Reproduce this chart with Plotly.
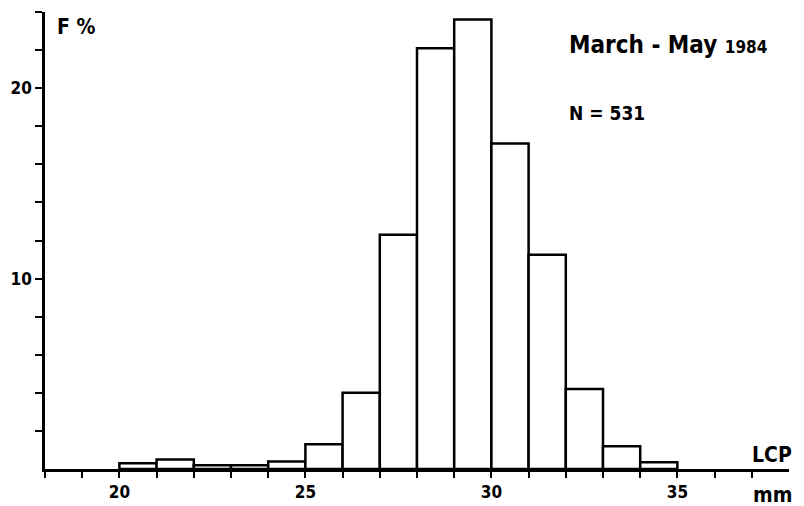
import plotly.graph_objects as go

# Length classes (mm), lower edge of each 1-mm bin
bin_start = [20, 21, 22, 23, 24, 25, 26, 27, 28, 29, 30, 31, 32, 33, 34]
# Frequency (%)
freq = [0.3, 0.5, 0.2, 0.2, 0.4, 1.3, 4.0, 12.3, 22.1, 23.6, 17.1, 11.25, 4.2, 1.2, 0.35]

x_ticks = list(range(18, 38))
x_labels = {20: "20", 25: "25", 30: "30", 35: "35"}
y_ticks = list(range(2, 25, 2))
y_labels = {10: "10", 20: "20"}

FONT = "Liberation Sans Narrow, DejaVu Sans Condensed, Arial Narrow, sans-serif"

centers = [b + 0.5 for b in bin_start]

fig = go.Figure()
fig.add_trace(go.Bar(
    x=centers, y=freq, width=1,
    marker=dict(color="white", line=dict(color="black", width=2.5)),
    hoverinfo="skip",
))

tf = dict(size=17, family=FONT, weight="bold", color="black")

# the page body has an 8px margin, so the figure is sized to fit the window
fig.update_layout(
    width=796, height=498,
    margin=dict(l=37, r=15, t=4, b=37, autoexpand=False),
    paper_bgcolor="white", plot_bgcolor="white",
    showlegend=False,
    font=dict(family=FONT, color="black"),
    xaxis=dict(
        range=[18, 38], showgrid=False, zeroline=False, automargin=False,
        showline=True, linecolor="black", linewidth=2.5,
        ticks="outside", ticklen=6, tickwidth=2, tickcolor="black",
        tickvals=x_ticks, ticktext=[x_labels.get(v, "") for v in x_ticks],
        tickfont=tf,
    ),
    yaxis=dict(
        range=[0, 24], showgrid=False, zeroline=False, automargin=False,
        showline=True, linecolor="black", linewidth=2.5,
        ticks="outside", ticklen=7, tickwidth=2, tickcolor="black",
        tickvals=y_ticks, ticktext=[y_labels.get(v, "") for v in y_ticks],
        tickfont=tf,
    ),
)

def ann(text, x, y, size, xanchor="left", yanchor="middle"):
    fig.add_annotation(text=text, x=x, y=y, xref="paper", yref="paper",
                       xanchor=xanchor, yanchor=yanchor, showarrow=False,
                       font=dict(size=size, family=FONT, weight="bold", color="black"))

W, H, L, T = 744, 457, 45, 12
def px(xp): return (xp - L) / W
def py(yp): return (T + H - yp) / H

ann("F %", px(55), py(27), 21)
ann("March - May <span style='font-size:17px'>1984</span>", px(567), py(45), 24)
ann("N = 531", px(567), py(113), 19)
ann("LCP", px(772), py(455), 21, xanchor="center")
ann("mm", px(772), py(495), 21, xanchor="center")

fig.write_html("out.html")
